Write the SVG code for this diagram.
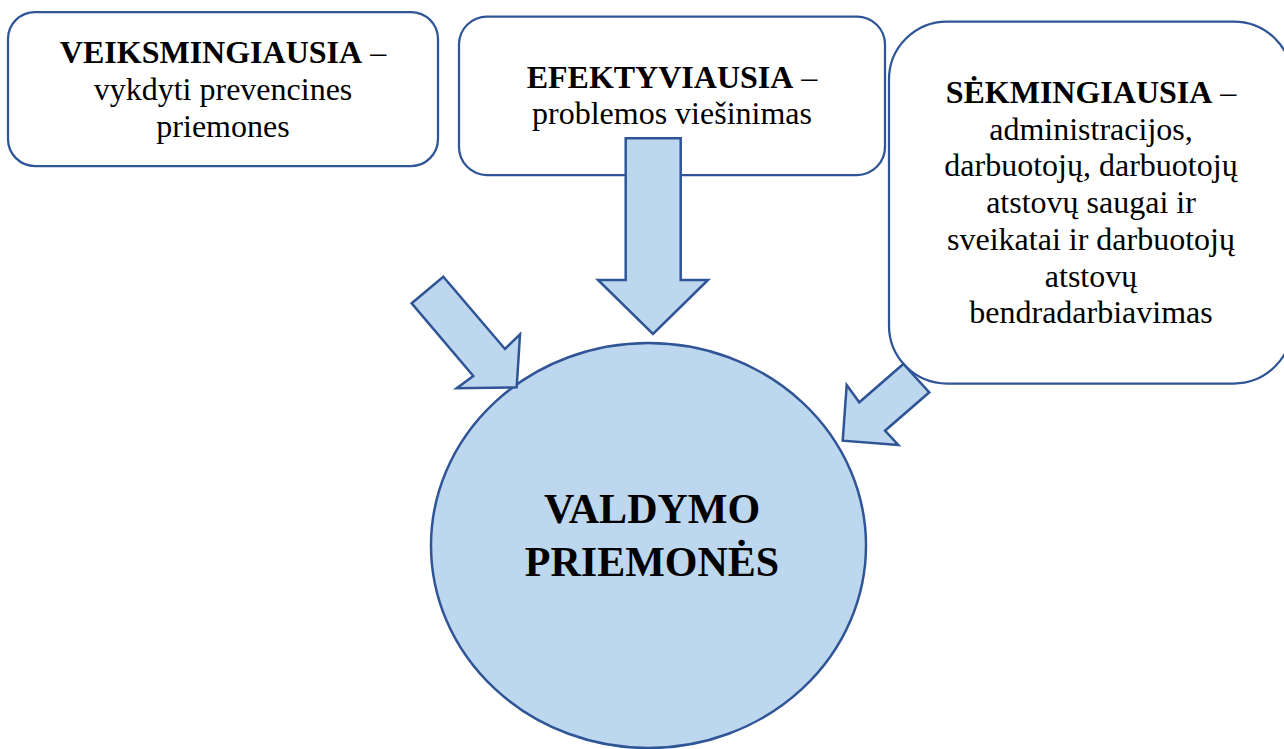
<svg xmlns="http://www.w3.org/2000/svg" width="1284" height="749" viewBox="0 0 1284 749">
<style>
.box{fill:#ffffff;stroke:#2F5597;stroke-width:2.25}
.blue{fill:#BDD7EE;stroke:#2F5597;stroke-width:2.5;stroke-linejoin:miter}
.t{font-size:32px;fill:#000;text-anchor:middle}
.b{font-weight:bold}
.big{font-size:42px;font-weight:bold;fill:#000;text-anchor:middle}
</style>
<rect width="1284" height="749" fill="#ffffff"/>
<g id="circle">
<ellipse class="blue" cx="648.5" cy="545.5" rx="217.5" ry="202.5" stroke-width="2.25"/>
<text class="big" font-family="Liberation Serif, Tinos, Times New Roman, serif" x="652" y="523">VALDYMO</text>
<text class="big" font-family="Liberation Serif, Tinos, Times New Roman, serif" x="652" y="576">PRIEMONĖS</text>
</g>
<g id="box1" font-family="Liberation Serif, Tinos, Times New Roman, serif">
<rect class="box" x="8" y="12" width="430" height="154" rx="27" ry="27"/>
<text class="t" x="223" y="63"><tspan class="b">VEIKSMINGIAUSIA</tspan> –</text>
<text class="t" x="223" y="100">vykdyti prevencines</text>
<text class="t" x="223" y="137">priemones</text>
</g>
<g id="box2" font-family="Liberation Serif, Tinos, Times New Roman, serif">
<rect class="box" x="459" y="16.5" width="426" height="158.5" rx="28" ry="28"/>
<text class="t" x="672" y="88"><tspan class="b">EFEKTYVIAUSIA</tspan> –</text>
<text class="t" x="672" y="124">problemos viešinimas</text>
</g>
<g id="box3" font-family="Liberation Serif, Tinos, Times New Roman, serif">
<rect class="box" x="889" y="21.5" width="403" height="362" rx="58" ry="58"/>
<text class="t" x="1091" y="103"><tspan class="b">SĖKMINGIAUSIA</tspan> –</text>
<text class="t" x="1091" y="140">administracijos,</text>
<text class="t" x="1091" y="176">darbuotojų, darbuotojų</text>
<text class="t" x="1091" y="213">atstovų saugai ir</text>
<text class="t" x="1091" y="250">sveikatai ir darbuotojų</text>
<text class="t" x="1091" y="287">atstovų</text>
<text class="t" x="1091" y="323">bendradarbiavimas</text>
</g>
<g id="connectors">
<polygon class="blue" points="625.7,138.3 680.7,138.3 680.7,280 708,280 653,334 598,280 625.7,280"/>
<polygon class="blue" points="411.7,303.3 443.3,276.7 505,349 520,334.3 516.7,387.3 456.7,388.3 473.3,376"/>
<polygon class="blue" points="903.3,364 859.3,402.3 846.7,385 842.7,440.7 898.3,445 885,430.7 929.3,392.3"/>
</g>
</svg>
